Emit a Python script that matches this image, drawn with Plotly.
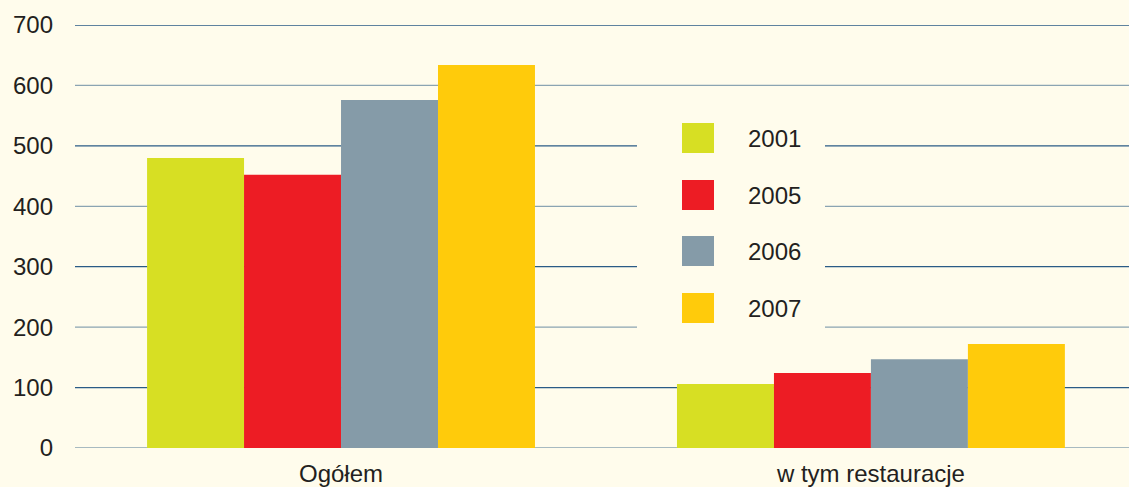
import plotly.graph_objects as go

categories = ["Ogółem", "w tym restauracje"]
years = ["2001", "2005", "2006", "2007"]
values_2001 = [480, 106]
values_2005 = [452, 124]
values_2006 = [576, 147]
values_2007 = [634, 172]
series = [values_2001, values_2005, values_2006, values_2007]
colors = ["#d7df23", "#ed1c24", "#859ba8", "#ffcb0b"]
y_ticks = [0, 100, 200, 300, 400, 500, 600, 700]

BG = "#fffcec"
DARK = "#2a5b86"
LIGHT = "#8ba4b2"
FONT = "Liberation Sans, Arial, sans-serif"
TXT = "#231f20"
FS = 24

fig = go.Figure()
for yr, vals, col in zip(years, series, colors):
    fig.add_trace(go.Bar(x=categories, y=vals, name=yr, marker=dict(color=col, line=dict(width=0)),
                         showlegend=False, hoverinfo="skip"))

shapes = []
for i, t in enumerate(y_ticks):
    shapes.append(dict(type="line", xref="paper", yref="y", x0=0, x1=1, y0=t, y1=t,
                       line=dict(color=LIGHT if i % 2 == 0 else DARK, width=1.3), layer="below"))
# legend background box (hides gridlines)
shapes.append(dict(type="rect", xref="paper", yref="paper", x0=(637-75)/1054, x1=(825-75)/1054,
                   y0=(448-340)/423, y1=(448-102)/423, fillcolor=BG, line=dict(width=0), layer="below"))
annotations = []
row_tops = [123, 180, 236, 293]
for yr, col, top in zip(years, colors, row_tops):
    shapes.append(dict(type="rect", xref="paper", yref="paper",
                       x0=(682-75)/1054, x1=(714-75)/1054,
                       y0=(448-(top+30))/423, y1=(448-top)/423,
                       fillcolor=col, line=dict(width=0), layer="above"))
    annotations.append(dict(xref="paper", yref="paper", x=(746-75)/1054, y=(448-(top+15))/423,
                            text=yr, showarrow=False, xanchor="left", yanchor="middle",
                            font=dict(family=FONT, size=FS, color=TXT)))

fig.update_layout(
    width=1129, height=487,
    margin=dict(l=75, r=0, t=25, b=39),
    paper_bgcolor=BG, plot_bgcolor=BG,
    barmode="group", bargap=0.268, bargroupgap=0,
    shapes=shapes, annotations=annotations,
    font=dict(family=FONT, size=FS, color=TXT),
    xaxis=dict(range=[-0.502, 1.487], showgrid=False, zeroline=False, showline=False,
               ticks="", tickfont=dict(size=FS, color=TXT), ticklabelstandoff=9),
    yaxis=dict(range=[0, 700], tickvals=y_ticks, showgrid=False, zeroline=False, showline=False,
               ticks="", tickfont=dict(size=FS, color=TXT), ticklabelstandoff=21),
)
fig.write_html("out.html", config={"displayModeBar": False},
               post_script="document.body.style.margin='0px';document.body.style.background='%s';" % BG)
